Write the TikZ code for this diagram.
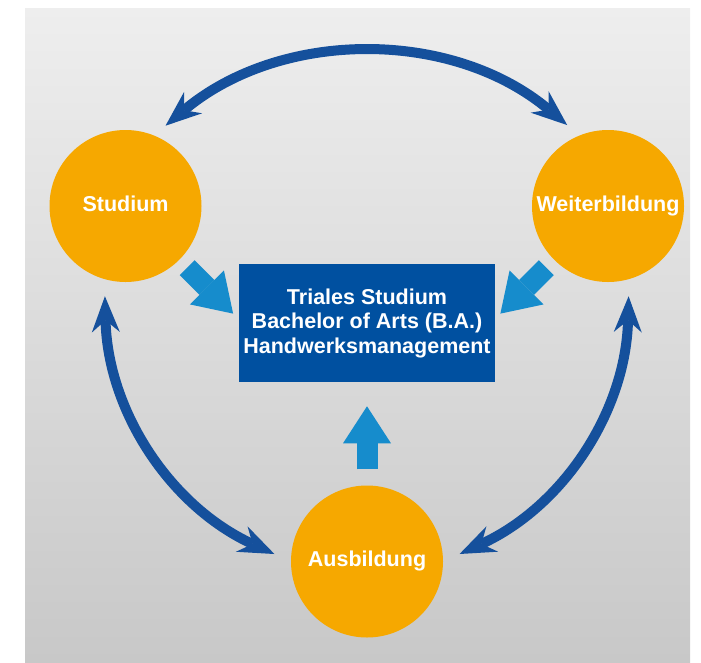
\documentclass[tikz,border=0pt]{standalone}
\usepackage{fontspec}
\setmainfont{Liberation Sans}
\usetikzlibrary{arrows.meta}

\definecolor{bgtop}{HTML}{EEEEEE}
\definecolor{bgmid}{HTML}{E8E8E8}
\definecolor{bgbottom}{HTML}{C8C8C8}
\definecolor{ringorange}{HTML}{F6A800}
\definecolor{boxblue}{HTML}{0050A0}
\definecolor{linkblue}{HTML}{15509C}
\definecolor{feedblue}{HTML}{168CCC}

\begin{document}
\begin{tikzpicture}[x=1pt, y=-1pt,
  ring/.style={circle, fill=ringorange, minimum size=152pt, inner sep=0pt,
    text=white, font=\bfseries\fontsize{21.5}{25}\selectfont,
    text height=10pt, text depth=0pt},
  link/.style={{Stealth[length=36pt,width=28pt,inset=12pt,line width=0pt]}-{Stealth[length=36pt,width=28pt,inset=12pt,line width=0pt]},
    line width=10pt, draw=linkblue},
  feed/.style={-{Triangle[length=37pt,width=48pt,line width=0pt]},
    line width=21pt, draw=feedblue}]

\useasboundingbox (0,0) rectangle (701,662);
\shade[top color=bgtop, middle color=bgmid, bottom color=bgbottom] (25,8) rectangle (690,662);

\node[ring] (studium) at (125.5,206) {Studium};
\node[ring] (weiter) at (608,206) {Weiterbildung};
\node[ring] (ausb) at (367,561.5) {Ausbildung};

\node[fill=boxblue, text=white, minimum width=256pt, minimum height=118pt,
  inner sep=0pt, align=center, font=\bfseries\fontsize{21.5}{24.5}\selectfont]
  (trial) at (367,323) {Triales Studium\\Bachelor of Arts (B.A.)\\Handwerksmanagement};

%double arrows round the circle
\draw[link, shorten <=15pt, shorten >=16pt] (studium.68) to[bend left=40] (weiter.112);
\draw[link, shorten <=17pt, shorten >=18pt] (studium.-106) to[bend right=32] (ausb.180);
\draw[link, shorten <=17pt, shorten >=18pt] (weiter.-74) to[bend left=32] (ausb.0);

%arrows into the box
\draw[feed, shorten <=11pt] (studium.-45) -- ++(-45:76pt);
\draw[feed, shorten <=11pt] (weiter.-135) -- ++(-135:76pt);
\draw[feed, shorten <=16pt] (ausb.north) -- ++(90:79pt);

\end{tikzpicture}
\end{document}
